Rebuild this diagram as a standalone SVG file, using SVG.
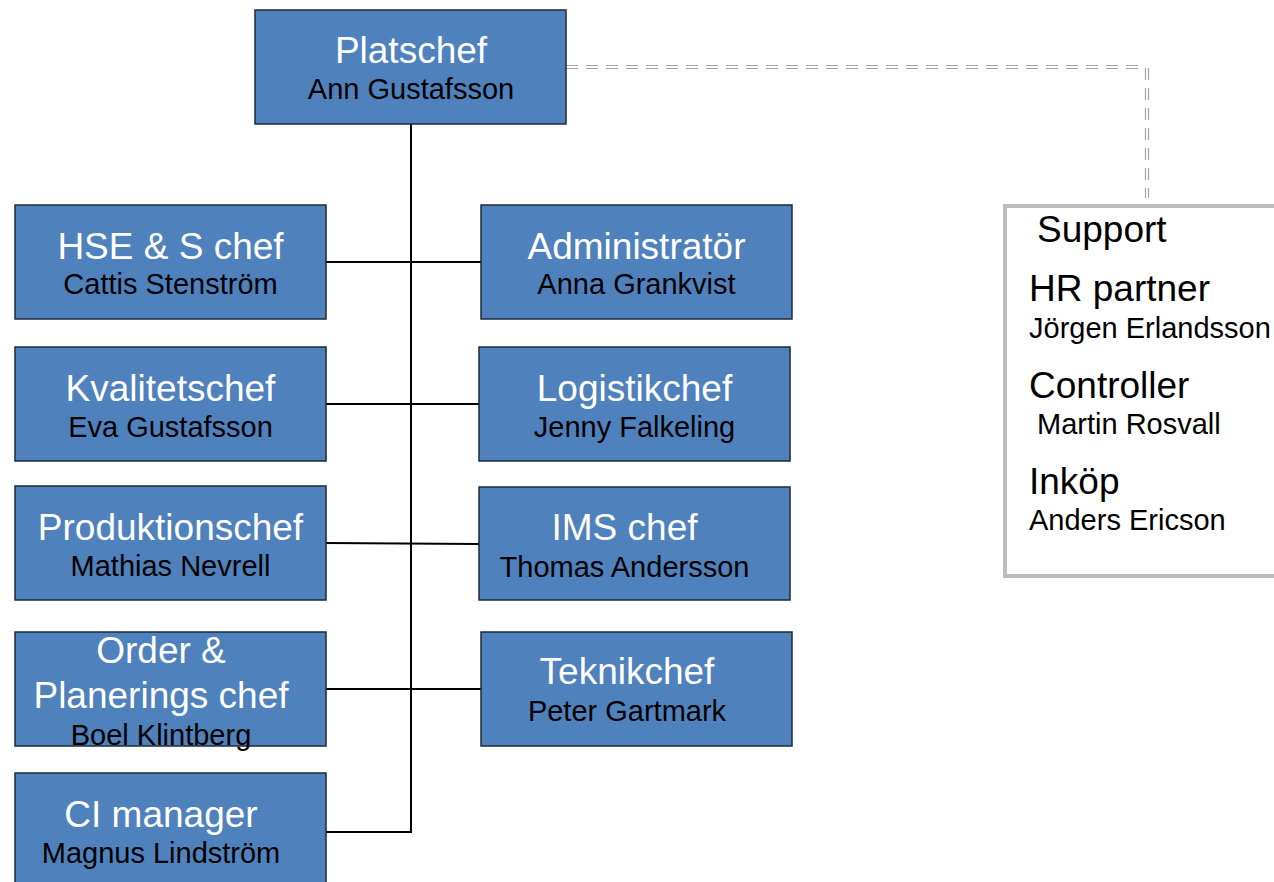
<svg xmlns="http://www.w3.org/2000/svg" width="1274" height="882" viewBox="0 0 1274 882">
<style>
.box{fill:#4F81BD;stroke:#1E2A3A;stroke-width:1.5}
.t{font-family:"Liberation Sans",Arial,sans-serif;font-size:37px;fill:#FFFFFF;text-anchor:middle}
.n{font-family:"Liberation Sans",Arial,sans-serif;font-size:29px;fill:#000000;text-anchor:middle}
.st{font-family:"Liberation Sans",Arial,sans-serif;font-size:37px;fill:#000000}
.sn{font-family:"Liberation Sans",Arial,sans-serif;font-size:29px;fill:#000000}
.ln{stroke:#000000;stroke-width:2;fill:none}
.dash{stroke:#A6A6A6;stroke-width:1.2;fill:none;stroke-dasharray:12,8}
</style>
<rect width="1274" height="882" fill="#FFFFFF"/>
<g id="connectors">
<line class="ln" x1="411" y1="124" x2="411" y2="833"/>
<line class="ln" x1="326" y1="262" x2="481" y2="262"/>
<line class="ln" x1="326" y1="404" x2="479" y2="404"/>
<line class="ln" x1="326" y1="543" x2="479" y2="544"/>
<line class="ln" x1="326" y1="689" x2="481" y2="689"/>
<line class="ln" x1="326" y1="832" x2="412" y2="832"/>
<path class="dash" d="M566,65.5 H1146 M566,68.5 H1146"/>
<path class="dash" d="M1145.5,68 V198 M1148.5,68 V198" stroke-dasharray="14,9"/>
</g>
<g id="platschef">
<rect class="box" x="255" y="10" width="311" height="114"/>
<text class="t" x="411" y="63">Platschef</text>
<text class="n" x="411" y="99">Ann Gustafsson</text>
</g>
<g id="hse">
<rect class="box" x="15" y="205" width="311" height="114"/>
<text class="t" x="170.5" y="259">HSE &amp; S chef</text>
<text class="n" x="170.5" y="294">Cattis Stenström</text>
</g>
<g id="administrator">
<rect class="box" x="481" y="205" width="311" height="114"/>
<text class="t" x="636.5" y="259">Administratör</text>
<text class="n" x="636.5" y="294">Anna Grankvist</text>
</g>
<g id="kvalitetschef">
<rect class="box" x="15" y="347" width="311" height="114"/>
<text class="t" x="170.5" y="401">Kvalitetschef</text>
<text class="n" x="170.5" y="437">Eva Gustafsson</text>
</g>
<g id="logistikchef">
<rect class="box" x="479" y="347" width="311" height="114"/>
<text class="t" x="634.5" y="401">Logistikchef</text>
<text class="n" x="634.5" y="437">Jenny Falkeling</text>
</g>
<g id="produktionschef">
<rect class="box" x="15" y="486" width="311" height="114"/>
<text class="t" x="170.5" y="540">Produktionschef</text>
<text class="n" x="170.5" y="576">Mathias Nevrell</text>
</g>
<g id="imschef">
<rect class="box" x="479" y="487" width="311" height="113"/>
<text class="t" x="624.5" y="540">IMS chef</text>
<text class="n" x="624.5" y="577">Thomas Andersson</text>
</g>
<g id="order">
<rect class="box" x="15" y="632" width="311" height="114"/>
<text class="t" x="161" y="663">Order &amp;</text>
<text class="t" x="161" y="708">Planerings chef</text>
<text class="n" x="161" y="745">Boel Klintberg</text>
</g>
<g id="teknikchef">
<rect class="box" x="481" y="632" width="311" height="114"/>
<text class="t" x="627" y="684">Teknikchef</text>
<text class="n" x="627" y="721">Peter Gartmark</text>
</g>
<g id="cimanager">
<rect class="box" x="15" y="773" width="311" height="120"/>
<text class="t" x="161" y="827">CI manager</text>
<text class="n" x="161" y="863">Magnus Lindström</text>
</g>
<g id="support">
<rect x="1005" y="206" width="290" height="370" fill="#FFFFFF" stroke="#BDBDBD" stroke-width="4"/>
<text class="st" x="1037" y="242">Support</text>
<text class="st" x="1029" y="301">HR partner</text>
<text class="sn" x="1029" y="338">Jörgen Erlandsson</text>
<text class="st" x="1029" y="398">Controller</text>
<text class="sn" x="1037" y="434">Martin Rosvall</text>
<text class="st" x="1029" y="494">Inköp</text>
<text class="sn" x="1029" y="530">Anders Ericson</text>
</g>
</svg>
